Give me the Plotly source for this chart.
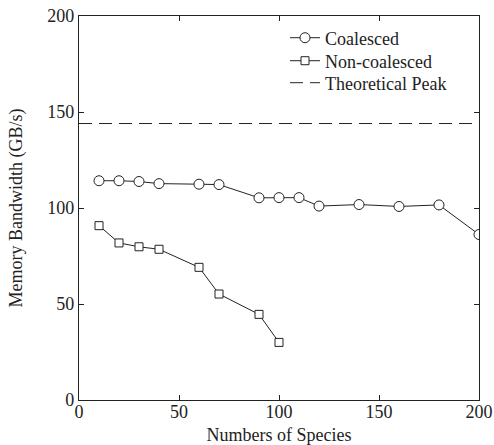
import plotly.graph_objects as go

species_coal = [10, 20, 30, 40, 60, 70, 90, 100, 110, 120, 140, 160, 180, 200]
bw_coal = [114.2, 114.2, 113.8, 112.7, 112.4, 112.2, 105.3, 105.4, 105.4, 101.0, 101.8, 100.8, 101.6, 86.2]
species_noncoal = [10, 20, 30, 40, 60, 70, 90, 100]
bw_noncoal = [90.8, 81.8, 79.8, 78.5, 69.1, 55.2, 44.6, 30.0]
peak_x = [0, 200]
peak_y = [144, 144]
ticks = [0, 50, 100, 150, 200]

FONT = "Liberation Serif"
INK = "#222"
fig = go.Figure()
fig.add_trace(go.Scatter(x=species_coal, y=bw_coal, mode="lines+markers", name="Coalesced", legend="legend",
                         showlegend=True,
                         line=dict(color=INK, width=1),
                         marker=dict(symbol="circle", size=10, color="white", line=dict(color=INK, width=1))))
fig.add_trace(go.Scatter(x=species_noncoal, y=bw_noncoal, mode="lines+markers", name="Non-coalesced", legend="legend2",
                         showlegend=True,
                         line=dict(color=INK, width=1),
                         marker=dict(symbol="square", size=8, color="white", line=dict(color=INK, width=1))))
fig.add_trace(go.Scatter(x=peak_x, y=peak_y, mode="lines", name="Theoretical Peak", legend="legend3",
                         showlegend=True,
                         line=dict(color=INK, width=1, dash="13px,7px")))

axis_common = dict(showgrid=False, zeroline=False, showline=True, linecolor=INK, linewidth=1.3,
                   mirror="ticks", ticks="inside", ticklen=5, tickcolor=INK, automargin=False,
                   ticklabeloverflow="allow",
                   tickfont=dict(family=FONT, size=18, color=INK), tickvals=ticks)
fig.update_xaxes(range=[0, 200], ticklabelstandoff=-5,
                 title=dict(text="Numbers of Species", font=dict(family=FONT, size=18, color=INK), standoff=8), **axis_common)
fig.update_yaxes(range=[0, 200],
                 title=dict(text="Memory Bandwidth (GB/s)", font=dict(family=FONT, size=18, color=INK), standoff=19), **axis_common)

leg = dict(x=0.515, xanchor="left", yanchor="middle", bgcolor="rgba(0,0,0,0)",
           font=dict(family=FONT, size=18, color=INK))
fig.update_layout(width=494, height=445, margin=dict(l=79, r=15, t=16, b=45),
                  plot_bgcolor="white", paper_bgcolor="white", showlegend=True,
                  font=dict(family=FONT, size=18, color=INK),
                  legend=dict(y=0.9427, **leg),
                  legend2=dict(y=0.8828, **leg),
                  legend3=dict(y=0.8255, **leg))
fig.write_html("out.html", config={"displayModeBar": False},
               post_script="document.body.style.margin='0';")
